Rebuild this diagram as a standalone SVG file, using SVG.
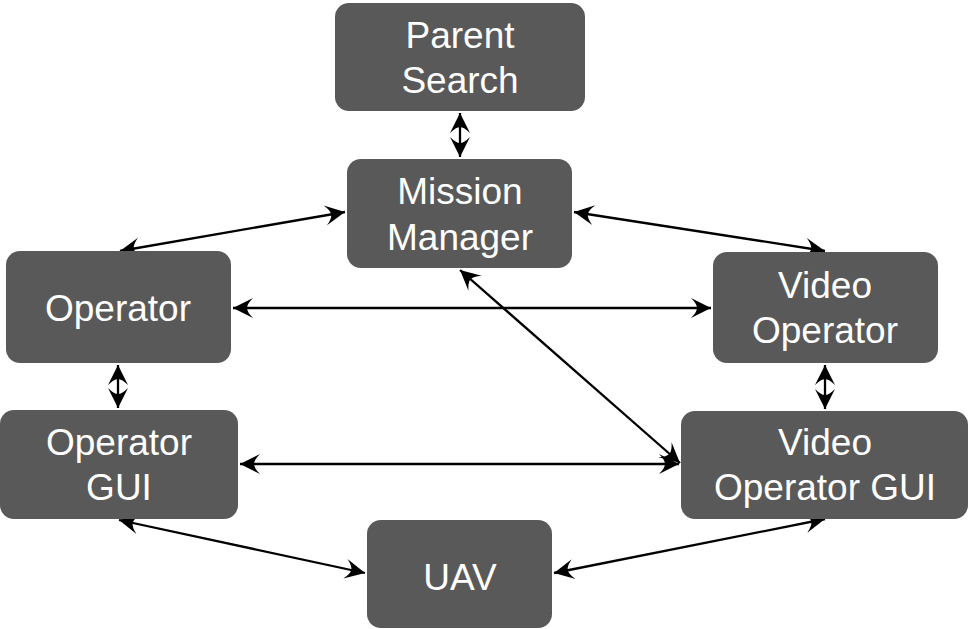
<svg xmlns="http://www.w3.org/2000/svg" width="969" height="629" viewBox="0 0 969 629">
<defs>
<style>
.box{fill:#595959}
.lbl{fill:#fff;font-family:"Liberation Sans",Arial,sans-serif;font-size:37px;text-anchor:middle}
.con{stroke:#000;stroke-width:2.3;fill:none;marker-start:url(#ah);marker-end:url(#ah)}
</style>
<marker id="ah" viewBox="-21 -11 22 22" refX="0" refY="0" markerWidth="22" markerHeight="22" markerUnits="userSpaceOnUse" orient="auto-start-reverse">
<path d="M0,0 L-20,-10 Q-14,-4 -14,0 Q-14,4 -20,10 Z" fill="#000"/>
</marker>
</defs>
<rect width="969" height="629" fill="#fff"/>
<g id="connectors">
<line class="con" x1="460" y1="113" x2="460" y2="157"/>
<line class="con" x1="345" y1="212" x2="120" y2="251"/>
<line class="con" x1="574" y1="212" x2="825" y2="251"/>
<line class="con" x1="233" y1="308" x2="711" y2="308"/>
<line class="con" x1="118" y1="365" x2="118" y2="408"/>
<line class="con" x1="825" y1="365" x2="825" y2="409"/>
<line class="con" x1="240" y1="464" x2="679" y2="464"/>
<line class="con" x1="460" y1="270" x2="680" y2="463"/>
<line class="con" x1="119" y1="520" x2="365" y2="573"/>
<line class="con" x1="554" y1="573" x2="825" y2="519"/>
</g>
<g id="parent-search">
<rect class="box" x="335" y="3" width="250" height="108" rx="14"/>
<text class="lbl" x="460" y="48">Parent</text>
<text class="lbl" x="460" y="93">Search</text>
</g>
<g id="mission-manager">
<rect class="box" x="347" y="159" width="225" height="109" rx="14"/>
<text class="lbl" x="460" y="204">Mission</text>
<text class="lbl" x="460" y="250">Manager</text>
</g>
<g id="operator">
<rect class="box" x="6" y="251" width="225" height="112" rx="14"/>
<text class="lbl" x="118" y="321">Operator</text>
</g>
<g id="video-operator">
<rect class="box" x="713" y="252" width="225" height="111" rx="14"/>
<text class="lbl" x="825" y="298">Video</text>
<text class="lbl" x="825" y="343">Operator</text>
</g>
<g id="operator-gui">
<rect class="box" x="0" y="410" width="238" height="109" rx="14"/>
<text class="lbl" x="119" y="455">Operator</text>
<text class="lbl" x="119" y="500">GUI</text>
</g>
<g id="video-operator-gui">
<rect class="box" x="681" y="411" width="287" height="108" rx="14"/>
<text class="lbl" x="825" y="455">Video</text>
<text class="lbl" x="825" y="500">Operator GUI</text>
</g>
<g id="uav">
<rect class="box" x="367" y="520" width="185" height="108" rx="14"/>
<text class="lbl" x="460" y="590">UAV</text>
</g>
</svg>
